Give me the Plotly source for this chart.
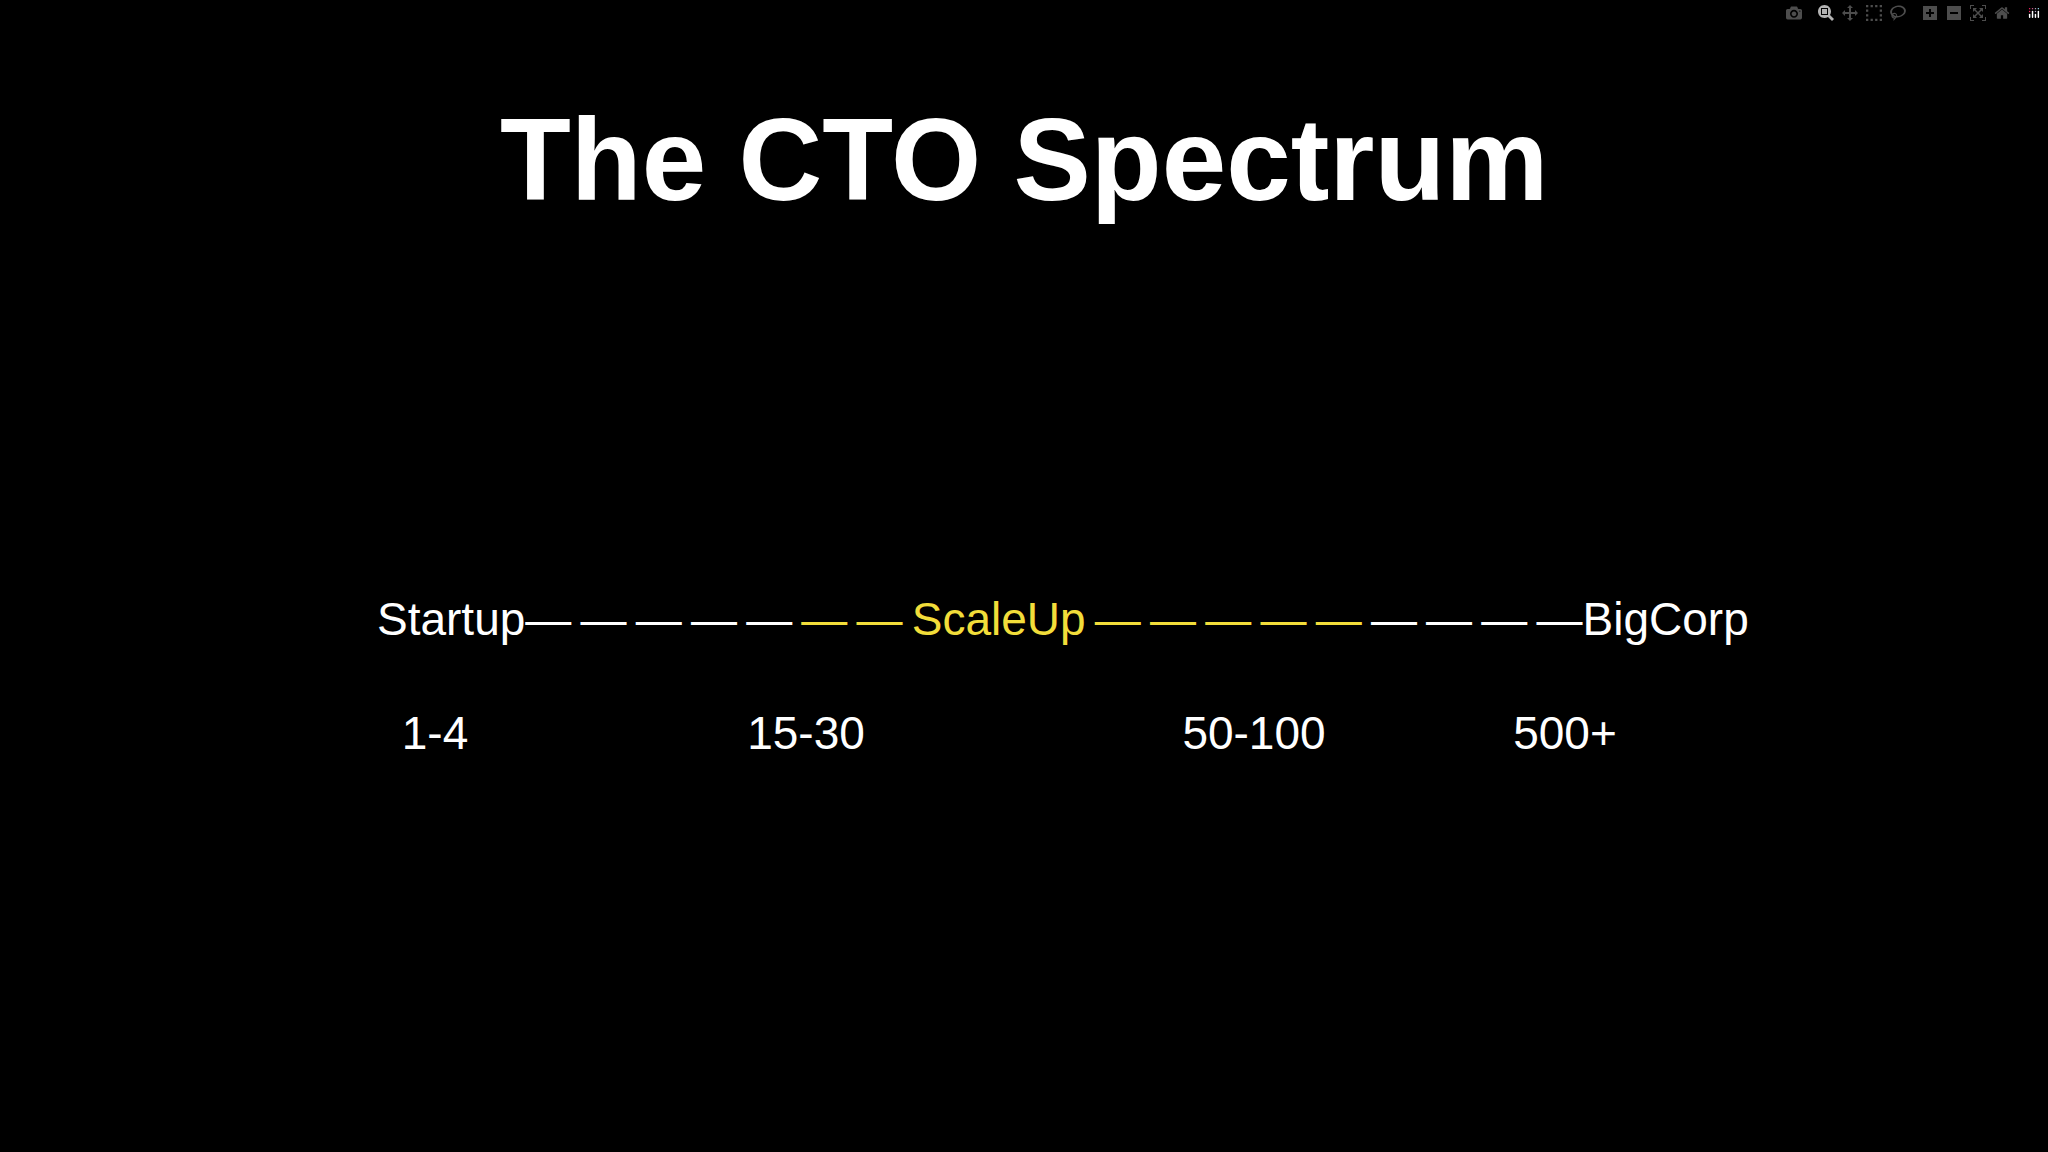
import plotly.graph_objects as go

title = "The CTO Spectrum"

# spectrum line: (text, colour) segments
segments = [
    ("Startup", "white"),
    ("—\u2009" * 5, "white"),
    ("—\u2009" * 2, "yellow"),
    ("ScaleUp", "yellow"),
    ("\u2009—" * 5, "yellow"),
    ("\u2009—" * 4, "white"),
    ("BigCorp", "white"),
]
COLORS = {"white": "#ffffff", "yellow": "#f2dd3a"}

sizes = ["1-4", "15-30", "50-100", "500+"]
size_x = [435, 806, 1254, 1565]

line_html = "".join(
    f"<span style='color:{COLORS[c]}'>{t}</span>" for t, c in segments
)

fig = go.Figure()
fig.add_trace(go.Scatter(
    x=size_x, y=[1152 - 737] * len(sizes), text=sizes, mode="text",
    textfont=dict(family="Liberation Sans", size=46, color="white"),
    hoverinfo="skip",
))
fig.add_annotation(
    x=1024, y=1152 - 160, xref="x", yref="y", text=f"<b>{title}</b>",
    showarrow=False, font=dict(family="Liberation Sans", size=116, color="white"),
)
fig.add_annotation(
    x=375, y=1152 - 619, xref="x", yref="y", xanchor="left", text=line_html,
    showarrow=False, font=dict(family="Liberation Sans", size=46, color="white"),
)
fig.update_xaxes(range=[0, 2048], visible=False)
fig.update_yaxes(range=[0, 1152], visible=False)
fig.update_layout(
    width=2048, height=1152, margin=dict(l=0, r=0, t=0, b=0),
    paper_bgcolor="black", plot_bgcolor="black", showlegend=False,
)
fig.write_html(
    "out.html",
    post_script="document.body.style.margin='0';document.body.style.background='black';",
)
